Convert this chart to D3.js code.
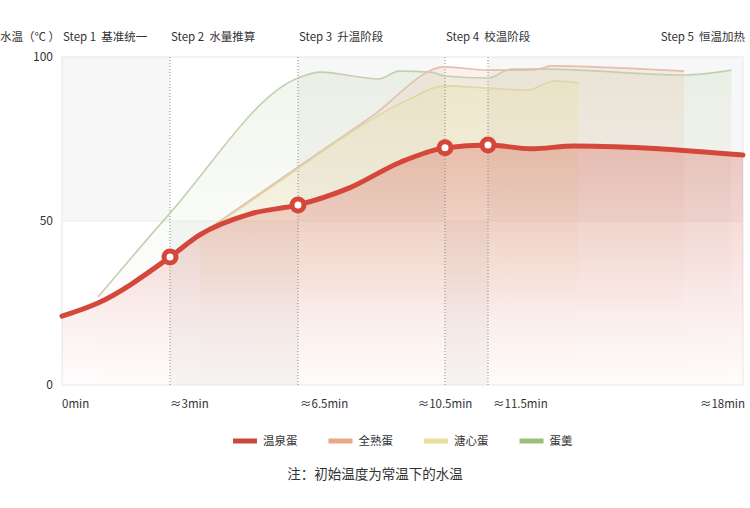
<!DOCTYPE html>
<html>
<head>
  <meta charset="utf-8">
  <style>
    body {
        margin: 0;
        background: #fff;
        font-family: "Noto Sans CJK SC", "Noto Sans", sans-serif;
    }
    text {
        fill: #333;
        white-space: pre;
    }
  </style>
</head>
<body>
<script src="https://d3js.org/d3.v7.min.js"></script>
<div id="chart"></div>
<script>
    // Axis ticks and stage labels
    const tickMinutes = [0, 3, 6.5, 10.5, 11.5, 18];
    const tickLabels = ["0min", "≈3min", "≈6.5min", "≈10.5min", "≈11.5min", "≈18min"];
    const yTicks = [0, 50, 100];
    const stepMinutes = [0, 3, 6.5, 10.5, 18];
    const stepLabels = ["Step 1  基准统一", "Step 2  水量推算", "Step 3  升温阶段", "Step 4  校温阶段", "Step 5  恒温加热"];
    const markerMinutes = [3, 6.5, 10.5, 11.5];

    // Series (minutes / water temperature)
    const seriesNames = ["温泉蛋", "全熟蛋", "溏心蛋", "蛋羹"];
    const wenquanT = [0, 1, 3, 3.8, 5.2, 6.5, 7.9, 9.3, 10.5, 11.5, 12.6, 13.7, 18];
    const wenquanV = [21.0, 25.0, 39.0, 45.7, 52.2, 54.9, 60.1, 68.0, 72.3, 73.2, 72.0, 72.9, 70.1];
    const quanshuT = [3.8, 5.2, 6.5, 8.5, 10.5, 11.5, 12.5, 12.9, 13.1, 15, 16.5];
    const quanshuV = [45.7, 56.4, 66.5, 81.8, 97.0, 96.0, 96.0, 96.6, 97.3, 96.6, 95.7];
    const tangxinT = [3.8, 5.2, 6.5, 8, 9.5, 10.5, 11.5, 12.5, 13.2, 13.8];
    const tangxinV = [45.7, 56.0, 66.0, 77.5, 87.0, 91.2, 90.5, 89.9, 92.7, 92.1];
    const dangengT = [1, 3, 6.5, 7.1, 8.7, 9.25, 10.1, 10.5, 11.5, 12.1, 13.0, 16.5, 17.7];
    const dangengV = [26.8, 52.4, 93.6, 95.4, 93.3, 95.7, 95.4, 94.2, 93.6, 96.3, 96.3, 94.5, 96.0];

    const colors = ["#d4473a", "#e9a98a", "#e6dc94", "#a3c384"];

    const width = 750, height = 508;
    const plotLeft = 62, plotRight = 743, plotTop = 57, plotBottom = 385;

    const svg = d3.select("#chart").append("svg")
      .attr("width", width)
      .attr("height", height);

    // The picture's time axis is not evenly spaced, so the scale is piecewise
    const xScale = d3.scaleLinear()
      .domain(tickMinutes)
      .range([plotLeft, 170, 298, 445, 488, plotRight]);

    const yScale = d3.scaleLinear()
      .domain([0, 100])
      .range([plotBottom, plotTop]);

    const zip = (t, v) => t.map((d, i) => ({ t: d, v: v[i] }));
    const series = [
      zip(wenquanT, wenquanV),
      zip(quanshuT, quanshuV),
      zip(tangxinT, tangxinV),
      zip(dangengT, dangengV)
    ];

    // Checkered background
    const bg = svg.append("g");
    for (let i = 0; i < tickMinutes.length - 1; i++) {
      for (let j = 0; j < yTicks.length - 1; j++) {
        bg.append("rect")
          .attr("x", xScale(tickMinutes[i]))
          .attr("y", yScale(yTicks[j + 1]))
          .attr("width", xScale(tickMinutes[i + 1]) - xScale(tickMinutes[i]))
          .attr("height", yScale(yTicks[j]) - yScale(yTicks[j + 1]))
          .attr("fill", (i + j) % 2 === 1 ? "#f7f7f7" : "#fff");
      }
    }

    // Gridline at 50 and frame
    svg.append("line")
      .attr("x1", plotLeft).attr("x2", plotRight)
      .attr("y1", yScale(50)).attr("y2", yScale(50))
      .attr("stroke", "#ececec");
    svg.append("rect")
      .attr("x", plotLeft).attr("y", plotTop)
      .attr("width", plotRight - plotLeft).attr("height", plotBottom - plotTop)
      .attr("fill", "none")
      .attr("stroke", "#e8e8e8");

    // Gradients: red fades over the full height, the faint ones fade sooner
    const defs = svg.append("defs");
    const topOpacity = [0.28, 0.17, 0.26, 0.15];
    const fadeEnd = ["100%", "78%", "78%", "78%"];
    colors.forEach((c, i) => {
      const g = defs.append("linearGradient")
        .attr("id", "grad" + i)
        .attr("x1", 0).attr("y1", 0).attr("x2", 0).attr("y2", 1);
      g.append("stop").attr("offset", "0%").attr("stop-color", c).attr("stop-opacity", topOpacity[i]);
      g.append("stop").attr("offset", fadeEnd[i]).attr("stop-color", c).attr("stop-opacity", 0.01);
    });

    const area = d3.area()
      .x(d => xScale(d.t))
      .y0(yScale(0))
      .y1(d => yScale(d.v))
      .curve(d3.curveMonotoneX);

    const line = d3.line()
      .x(d => xScale(d.t))
      .y(d => yScale(d.v))
      .curve(d3.curveMonotoneX);

    // Areas: faint series first, red last
    [3, 1, 2, 0].forEach(i => {
      svg.append("path")
        .attr("d", area(series[i]))
        .attr("fill", `url(#grad${i})`);
    });

    // Dotted stage lines
    svg.selectAll(".stage")
      .data(markerMinutes)
      .join("line")
      .attr("class", "stage")
      .attr("x1", d => xScale(d)).attr("x2", d => xScale(d))
      .attr("y1", plotTop).attr("y2", plotBottom)
      .attr("stroke", "#8a8a8a")
      .attr("stroke-dasharray", "1,2");

    const lineColors = ["#d4473a", "#e3bfae", "#ddd6a6", "#c4cfb2"];
    [3, 1, 2].forEach(i => {
      svg.append("path")
        .attr("d", line(series[i]))
        .attr("fill", "none")
        .attr("stroke", lineColors[i])
        .attr("stroke-width", 1.6);
    });

    svg.append("path")
      .attr("d", line(series[0]))
      .attr("fill", "none")
      .attr("stroke", colors[0])
      .attr("stroke-width", 5)
      .attr("stroke-linecap", "round");

    svg.selectAll(".marker")
      .data(series[0].filter(d => markerMinutes.includes(d.t)))
      .join("circle")
      .attr("class", "marker")
      .attr("cx", d => xScale(d.t))
      .attr("cy", d => yScale(d.v))
      .attr("r", 6)
      .attr("fill", "#fff")
      .attr("stroke", colors[0])
      .attr("stroke-width", 5);

    // Y tick labels
    svg.selectAll(".ytick")
      .data(yTicks)
      .join("text")
      .attr("class", "ytick")
      .attr("x", 53)
      .attr("y", d => yScale(d))
      .attr("dy", "0.35em")
      .attr("text-anchor", "end")
      .style("font-size", "12px")
      .text(d => d);

    // X tick labels
    const tickAnchor = ["start", "start", "start", "middle", "start", "end"];
    const tickShift = [0, 0, 2, 0, 5, 2];
    svg.selectAll(".xtick")
      .data(tickMinutes)
      .join("text")
      .attr("class", "xtick")
      .attr("x", (d, i) => xScale(d) + tickShift[i])
      .attr("y", 408)
      .attr("text-anchor", (d, i) => tickAnchor[i])
      .style("font-size", "11.5px")
      .text((d, i) => tickLabels[i]);

    // Top labels
    svg.append("text")
      .attr("x", 0).attr("y", 41)
      .style("font-size", "11.5px")
      .text("水温（℃ ）");
    svg.selectAll(".step")
      .data(stepMinutes)
      .join("text")
      .attr("class", "step")
      .attr("x", (d, i) => i === stepMinutes.length - 1 ? xScale(d) + 2 : xScale(d) + 1)
      .attr("y", 41)
      .attr("text-anchor", (d, i) => i === stepMinutes.length - 1 ? "end" : "start")
      .style("font-size", "11.5px")
      .text((d, i) => stepLabels[i]);

    // Legend
    const legendColors = ["#c94a3d", "#e8a888", "#e8e09a", "#9dbf7d"];
    const legend = svg.append("g").attr("transform", "translate(233, 441)");
    seriesNames.forEach((name, i) => {
      const g = legend.append("g").attr("transform", `translate(${i * 95.5}, 0)`);
      g.append("rect")
        .attr("x", 0).attr("y", -2.5)
        .attr("width", 24).attr("height", 5)
        .attr("fill", legendColors[i]);
      g.append("text")
        .attr("x", 30).attr("y", 0)
        .attr("dy", "0.35em")
        .style("font-size", "11.5px")
        .text(name);
    });

    // Note
    svg.append("text")
      .attr("x", 375).attr("y", 474)
      .attr("dy", "0.35em")
      .attr("text-anchor", "middle")
      .style("font-size", "13.5px")
      .text("注：初始温度为常温下的水温");
</script>
</body>
</html>
